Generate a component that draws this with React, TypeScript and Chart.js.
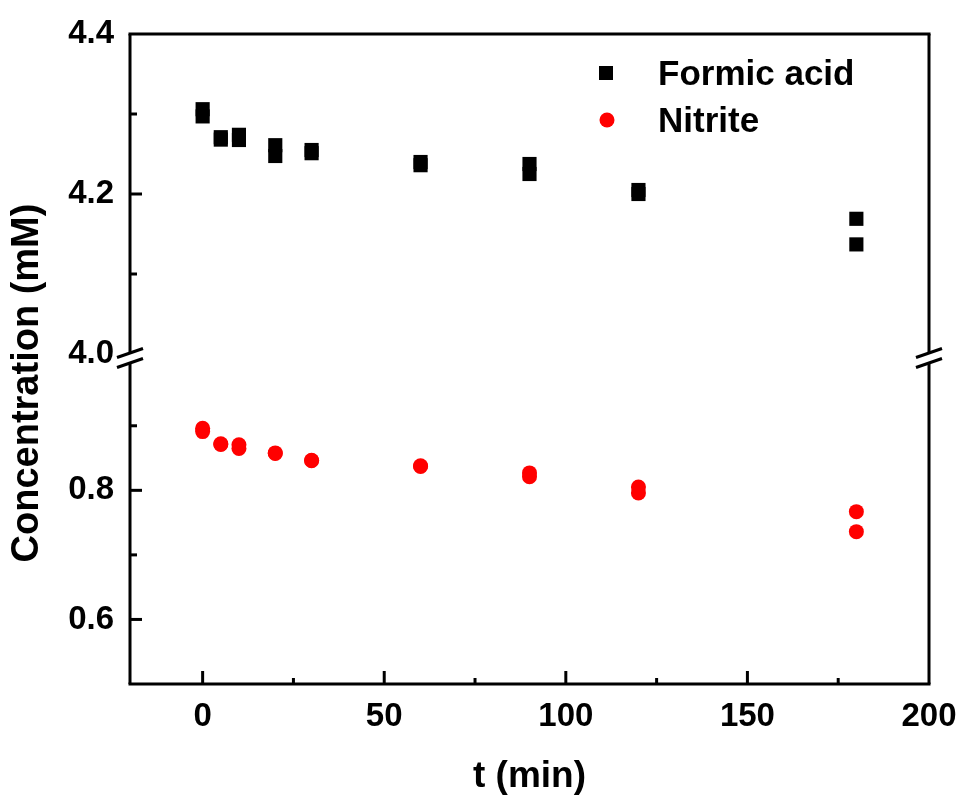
import React, { useEffect, useRef } from 'react';
import { Chart, registerables } from 'chart.js';

Chart.register(...registerables);

// ---- data ----
const TIMES = [0, 5, 10, 20, 30, 60, 90, 120, 180];
const FORMIC_RUN1 = [4.306, 4.271, 4.274, 4.261, 4.255, 4.240, 4.2375, 4.205, 4.169];
const FORMIC_RUN2 = [4.297, 4.268, 4.2675, 4.2475, 4.251, 4.236, 4.225, 4.200, 4.137];
const NITRITE_RUN1 = [0.896, 0.872, 0.8705, 0.858, 0.8465, 0.838, 0.827, 0.805, 0.767];
const NITRITE_RUN2 = [0.891, 0.871, 0.865, 0.857, 0.846, 0.837, 0.821, 0.796, 0.736];

const SERIES_LABELS = ['Formic acid', 'Nitrite'];
const X_TICKS = [0, 50, 100, 150, 200];
const X_MINOR = [25, 75, 125, 175];
const TOP_TICKS = [4.0, 4.2, 4.4];
const TOP_MINOR = [4.1, 4.3];
const BOTTOM_TICKS = [0.6, 0.8];
const BOTTOM_MINOR = [0.7, 0.9];
const X_TITLE = 't (min)';
const Y_TITLE = 'Concentration (mM)';

const FONT = "'Liberation Sans', Arial, sans-serif";

const pairs = (a: number[], b: number[]) =>
  TIMES.flatMap((t, i) => [
    { x: t, y: a[i] },
    { x: t, y: b[i] },
  ]);

const decorPlugin = {
  id: 'decor',
  afterDraw(chart: any) {
    const { ctx, chartArea: a, scales } = chart;
    const yTop = scales.yTop;
    const yBot = scales.yBot;
    const xs = scales.x;
    const brk = Math.max(yTop.bottom, yBot.top);
    const gap = 5;
    ctx.save();
    ctx.strokeStyle = '#000';
    ctx.fillStyle = '#000';
    ctx.lineWidth = 3;
    ctx.lineCap = 'butt';
    const line = (x1: number, y1: number, x2: number, y2: number) => {
      ctx.beginPath();
      ctx.moveTo(x1, y1);
      ctx.lineTo(x2, y2);
      ctx.stroke();
    };
    // frame
    line(a.left - 1.5, a.top, a.right + 1.5, a.top);
    line(a.left - 1.5, a.bottom, a.right + 1.5, a.bottom);
    for (const x0 of [a.left, a.right]) {
      line(x0, a.top, x0, brk - gap);
      line(x0, brk + gap, x0, a.bottom);
      line(x0 - 13, brk - gap + 4.5, x0 + 13, brk - gap - 4.5);
      line(x0 - 13, brk + gap + 4.5, x0 + 13, brk + gap - 4.5);
    }
    // y ticks (inward)
    const yTick = (scale: any, v: number, len: number) => {
      const y = scale.getPixelForValue(v);
      if (y < a.top + 2 || y > a.bottom - 2) return;
      if (Math.abs(y - brk) < gap + 6) return;
      line(a.left, y, a.left + len, y);
    };
    TOP_TICKS.forEach((v) => yTick(yTop, v, 12));
    TOP_MINOR.forEach((v) => yTick(yTop, v, 7));
    BOTTOM_TICKS.forEach((v) => yTick(yBot, v, 12));
    BOTTOM_MINOR.forEach((v) => yTick(yBot, v, 7));
    // x ticks (inward)
    const xTick = (v: number, len: number) => {
      const x = xs.getPixelForValue(v);
      if (x < a.left + 2 || x > a.right - 2) return;
      line(x, a.bottom, x, a.bottom - len);
    };
    X_TICKS.forEach((v) => xTick(v, 13));
    X_MINOR.forEach((v) => xTick(v, 6));

    // legend
    const ds = chart.data.datasets;
    ctx.textAlign = 'left';
    ctx.textBaseline = 'alphabetic';
    ctx.font = `bold 35px ${FONT}`;
    const lx = a.left + 476;
    const tx = a.left + 528;
    const rows = [a.top + 39, a.top + 86];
    ds.forEach((d: any, i: number) => {
      const cy = rows[i];
      ctx.fillStyle = d.backgroundColor;
      if (d.pointStyle === 'rect') {
        ctx.fillRect(lx - 7, cy - 7, 14, 14);
      } else {
        ctx.beginPath();
        ctx.arc(lx + 1, cy, 7.5, 0, Math.PI * 2);
        ctx.fill();
      }
      ctx.fillStyle = '#000';
      ctx.fillText(d.label, tx, cy + 12);
    });

    // axis titles
    ctx.font = `bold 37px ${FONT}`;
    ctx.textAlign = 'center';
    ctx.fillText(X_TITLE, (a.left + a.right) / 2, 787);
    ctx.save();
    ctx.font = `bold 38px ${FONT}`;
    ctx.translate(38, 383);
    ctx.rotate(-Math.PI / 2);
    ctx.fillText(Y_TITLE, 0, 0);
    ctx.restore();
    ctx.restore();
  },
};

export default function App() {
  const ref = useRef<HTMLCanvasElement | null>(null);
  useEffect(() => {
    if (!ref.current) return;
    const tickFont = { family: FONT, size: 33, weight: 'bold' as const };
    const yCommon = {
      type: 'linear',
      position: 'left',
      stack: 'y',
      grid: { display: false, drawTicks: false },
      border: { display: false },
      afterFit: (s: any) => {
        s.width = 130;
        s.paddingTop = 0;
        s.paddingBottom = 0;
      },
      ticks: {
        font: tickFont,
        color: '#000',
        padding: 16,
        callback: (v: any) => Number(v).toFixed(1),
      },
    };
    const chart = new Chart(ref.current, {
      type: 'scatter',
      data: {
        datasets: [
          {
            label: SERIES_LABELS[0],
            data: pairs(FORMIC_RUN1, FORMIC_RUN2),
            yAxisID: 'yTop',
            pointStyle: 'rect',
            pointRadius: 10,
            pointHoverRadius: 10,
            backgroundColor: '#000000',
            borderWidth: 0,
          },
          {
            label: SERIES_LABELS[1],
            data: pairs(NITRITE_RUN1, NITRITE_RUN2),
            yAxisID: 'yBot',
            pointStyle: 'circle',
            pointRadius: 7.5,
            pointHoverRadius: 7.5,
            backgroundColor: '#ff0000',
            borderWidth: 0,
          },
        ],
      },
      options: {
        responsive: false,
        animation: false,
        layout: { padding: { left: 0, top: 34, right: 34, bottom: 0 } },
        plugins: { legend: { display: false }, tooltip: { enabled: false } },
        scales: {
          x: {
            type: 'linear',
            min: -20,
            max: 200,
            grid: { display: false, drawTicks: false },
            border: { display: false },
            afterBuildTicks: (s: any) => {
              s.ticks = X_TICKS.map((v) => ({ value: v }));
            },
            afterFit: (s: any) => {
              s.height = 112;
              s.paddingLeft = 0;
              s.paddingRight = 0;
            },
            ticks: {
              font: tickFont,
              color: '#000',
              padding: 13,
              maxRotation: 0,
              callback: (v: any) => String(v),
            },
          },
          yBot: {
            ...yCommon,
            stackWeight: 326,
            min: 0.5,
            max: 1.005,
            afterBuildTicks: (s: any) => {
              s.ticks = BOTTOM_TICKS.map((v) => ({ value: v }));
            },
          },
          yTop: {
            ...yCommon,
            stackWeight: 324,
            min: 3.995,
            max: 4.4,
            afterBuildTicks: (s: any) => {
              s.ticks = TOP_TICKS.map((v) => ({ value: v }));
            },
          },
        },
      } as any,
      plugins: [decorPlugin],
    });
    return () => chart.destroy();
  }, []);

  return (
    <div style={{ position: 'absolute', left: 0, top: 0, width: 963, height: 796, background: '#fff' }}>
      <canvas ref={ref} width={963} height={796} style={{ display: 'block' }} />
    </div>
  );
}
